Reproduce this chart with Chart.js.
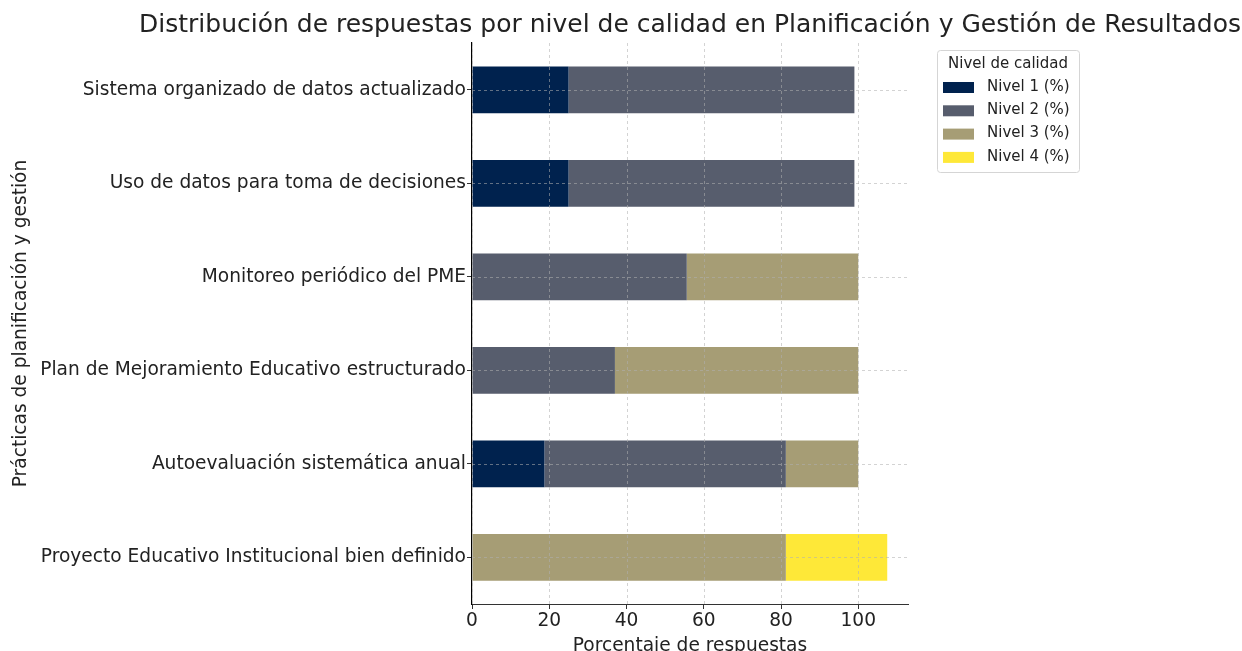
<!DOCTYPE html>
<html>
<head>
<meta charset="utf-8">
<script src="https://cdn.jsdelivr.net/npm/chart.js@4.4.1/dist/chart.umd.min.js"></script>
<style>
  html, body { margin: 0; padding: 0; background: #fff; }
  #wrap { width: 1242px; height: 651px; }
</style>
</head>
<body>
<div id="wrap"><canvas id="chart" width="1242" height="651"></canvas></div>
<script>
// datos
const practicas = [
    'Sistema organizado de datos actualizado',
    'Uso de datos para toma de decisiones',
    'Monitoreo periódico del PME',
    'Plan de Mejoramiento Educativo estructurado',
    'Autoevaluación sistemática anual',
    'Proyecto Educativo Institucional bien definido'
];
const nivel1 = [25, 25, 0, 0, 18.75, 0];
const nivel2 = [74, 74, 55.6, 37, 62.5, 0];
const nivel3 = [0, 0, 44.4, 63, 18.75, 81.25];
const nivel4 = [0, 0, 0, 0, 0, 26.25];
const nivelLabels = ['Nivel 1 (%)', 'Nivel 2 (%)', 'Nivel 3 (%)', 'Nivel 4 (%)'];
const nivelColors = ['#00224e', '#575d6d', '#a69d75', '#fee838'];
const xTicks = [0, 20, 40, 60, 80, 100];

const FONT = "'DejaVu Sans', sans-serif";
const TEXT = '#222';

// grid punteado encima de las barras, titulo y leyenda
const overlay = {
    id: 'overlay',
    afterDatasetsDraw(chart) {
        const ctx = chart.ctx;
        const area = chart.chartArea;
        const x = chart.scales.x;
        const y = chart.scales.y;
        ctx.save();
        ctx.strokeStyle = 'rgba(176,176,176,0.7)';
        ctx.lineWidth = 0.8;
        ctx.setLineDash([3, 3]);
        x.ticks.forEach(t => {
            const px = Math.round(x.getPixelForValue(t.value)) + 0.5;
            ctx.beginPath();
            ctx.moveTo(px, area.top);
            ctx.lineTo(px, area.bottom);
            ctx.stroke();
        });
        practicas.forEach((p, i) => {
            const py = Math.round(y.getPixelForValue(i)) + 0.5;
            ctx.beginPath();
            ctx.moveTo(area.left, py);
            ctx.lineTo(area.right, py);
            ctx.stroke();
        });
        ctx.restore();
    },
    afterDraw(chart) {
        const ctx = chart.ctx;
        const area = chart.chartArea;
        ctx.save();
        // titulo
        ctx.fillStyle = TEXT;
        ctx.font = '25px ' + FONT;
        ctx.textAlign = 'center';
        ctx.textBaseline = 'middle';
        ctx.fillText('Distribución de respuestas por nivel de calidad en Planificación y Gestión de Resultados',
            (area.left + area.right) / 2, 25);
        // leyenda
        const lx = 937, ly = 50, lw = 142, lh = 122;
        ctx.fillStyle = 'rgba(255,255,255,0.8)';
        ctx.strokeStyle = '#d5d5d5';
        ctx.lineWidth = 1;
        ctx.beginPath();
        ctx.roundRect(lx + 0.5, ly + 0.5, lw, lh, 3);
        ctx.fill();
        ctx.stroke();
        ctx.fillStyle = TEXT;
        ctx.font = '15px ' + FONT;
        ctx.fillText('Nivel de calidad', lx + lw / 2, ly + 14);
        ctx.textAlign = 'left';
        chart.data.datasets.forEach((ds, i) => {
            const ry = ly + 37 + i * 23.3;
            ctx.fillStyle = ds.backgroundColor;
            ctx.fillRect(lx + 6, ry - 5, 31, 11);
            ctx.fillStyle = TEXT;
            ctx.fillText(ds.label, lx + 50, ry);
        });
        ctx.restore();
    }
};

new Chart(document.getElementById('chart').getContext('2d'), {
    type: 'bar',
    data: {
        labels: practicas,
        datasets: [nivel1, nivel2, nivel3, nivel4].map((d, i) => ({
            label: nivelLabels[i],
            data: d,
            backgroundColor: nivelColors[i],
            borderWidth: 0,
            barPercentage: 0.5,
            categoryPercentage: 1.0
        }))
    },
    options: {
        indexAxis: 'y',
        responsive: false,
        animation: false,
        layout: { padding: { top: 43, right: 334, left: 0, bottom: 0 } },
        plugins: {
            legend: { display: false },
            title: { display: false },
            tooltip: { enabled: false }
        },
        scales: {
            x: {
                stacked: true,
                min: 0,
                max: 112.875,
                afterBuildTicks(scale) {
                    scale.ticks = xTicks.map(v => ({ value: v }));
                },
                afterFit(scale) { scale.height = 47; },
                grid: { drawOnChartArea: false, tickLength: 5, color: '#333' },
                border: { color: '#333', width: 1 },
                ticks: { color: TEXT, font: { family: FONT, size: 18.6 }, padding: 1 },
                title: {
                    display: true,
                    text: 'Porcentaje de respuestas',
                    color: TEXT,
                    font: { family: FONT, size: 18.6 },
                    padding: { top: 0, bottom: -6 }
                }
            },
            y: {
                stacked: true,
                afterFit(scale) { scale.width = 472; },
                grid: { drawOnChartArea: false, offset: false, tickLength: 5, color: '#333' },
                border: { color: '#000', width: 1.2 },
                ticks: { color: TEXT, font: { family: FONT, size: 18.6 }, padding: 1 },
                title: {
                    display: true,
                    text: 'Prácticas de planificación y gestión',
                    color: TEXT,
                    font: { family: FONT, size: 18.6 },
                    padding: { top: 10, bottom: 0 }
                }
            }
        }
    },
    plugins: [overlay]
});
</script>
</body>
</html>
